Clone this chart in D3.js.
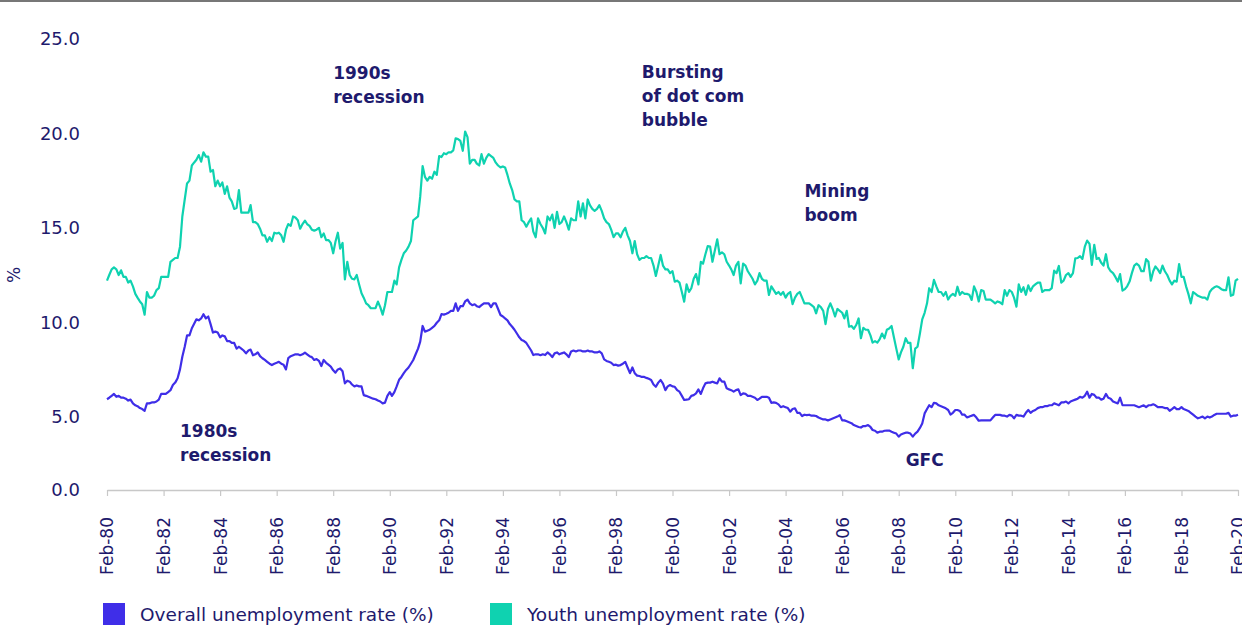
<!DOCTYPE html>
<html>
<head>
<meta charset="utf-8">
<script src="https://cdn.jsdelivr.net/npm/d3@7"></script>
<style>
  body { margin: 0; background: #fff; }
  text { font-family: "DejaVu Sans", sans-serif; fill: #1e1a6d; }
</style>
</head>
<body>
<div id="chart"></div>
<script>
// monthly values, Feb-80 .. Feb-20, one row per year (Feb..Jan)
const startMonth = new Date(1980, 1, 1);
const endMonth = new Date(2020, 1, 1);

const overall = [
  5.92, 6.0, 6.1, 6.2, 6.05, 6.1, 6.0, 6.0, 5.95, 5.85, 5.9, 5.7,
  5.6, 5.55, 5.45, 5.4, 5.31, 5.7, 5.7, 5.75, 5.75, 5.8, 5.9, 6.2,
  6.2, 6.2, 6.3, 6.4, 6.67, 6.8, 7.03, 7.5, 8.17, 8.7, 9.3, 9.3,
  9.68, 9.9, 10.15, 10.1, 10.2, 10.42, 10.2, 10.3, 9.9, 9.45, 9.5, 9.45,
  9.2, 9.3, 9.25, 9.0, 9.0, 8.9, 8.9, 8.6, 8.7, 8.6, 8.5, 8.35,
  8.5, 8.55, 8.25, 8.3, 8.4, 8.2, 8.09, 8.0, 7.9, 7.8, 7.73, 7.8,
  7.85, 7.9, 7.8, 7.75, 7.5, 8.1, 8.2, 8.25, 8.3, 8.3, 8.25, 8.3,
  8.39, 8.3, 8.2, 8.15, 8.0, 8.05, 7.95, 7.68, 8.0, 7.85, 7.75, 7.65,
  7.45, 7.33, 7.5, 7.55, 7.4, 6.76, 6.9, 6.85, 6.7, 6.6, 6.65, 6.6,
  6.6, 6.14, 6.1, 6.05, 6.0, 5.95, 5.92, 5.85, 5.8, 5.7, 5.74, 6.1,
  6.3, 6.1, 6.3, 6.6, 6.95, 7.1, 7.3, 7.47, 7.6, 7.8, 8.0, 8.3,
  8.6, 8.97, 9.8, 9.5, 9.55, 9.6, 9.7, 9.8, 9.97, 10.1, 10.43, 10.4,
  10.45, 10.5, 10.6, 10.6, 11.0, 10.6, 10.85, 10.85, 11.1, 11.2, 11.0, 10.9,
  10.95, 10.85, 10.8, 10.9, 11.0, 11.0, 11.0, 10.8, 11.0, 11.0, 10.7, 10.38,
  10.3, 10.2, 10.1, 9.9, 9.76, 9.6, 9.4, 9.2, 9.06, 9.0, 8.9, 8.7,
  8.5, 8.26, 8.3, 8.3, 8.25, 8.3, 8.26, 8.4, 8.3, 8.15, 8.35, 8.4,
  8.3, 8.35, 8.4, 8.3, 8.15, 8.45, 8.5, 8.45, 8.5, 8.5, 8.45, 8.45,
  8.5, 8.45, 8.45, 8.4, 8.4, 8.45, 8.35, 8.03, 7.95, 7.9, 7.85, 7.73,
  7.75, 7.7, 7.73, 7.8, 7.9, 7.6, 7.3, 7.6, 7.3, 7.17, 7.15, 7.1,
  7.1, 7.05, 7.0, 6.94, 6.7, 6.58, 6.8, 6.94, 6.75, 6.4, 6.6, 6.67,
  6.6, 6.58, 6.4, 6.32, 6.1, 5.88, 5.9, 5.92, 6.1, 6.14, 6.23, 6.44,
  6.2, 6.5, 6.76, 6.8, 6.8, 6.85, 6.8, 6.76, 7.03, 6.85, 6.85, 6.5,
  6.44, 6.4, 6.32, 6.4, 6.44, 6.14, 6.23, 6.2, 6.1, 6.1, 6.05, 6.0,
  5.88, 5.95, 6.05, 6.05, 6.05, 6.0, 5.73, 5.75, 5.73, 5.65, 5.5, 5.55,
  5.5, 5.45, 5.26, 5.4, 5.44, 5.2, 5.2, 5.03, 5.1, 5.08, 5.1, 5.05,
  5.05, 5.03, 4.95, 4.9, 4.85, 4.85, 4.8, 4.85, 4.9, 4.95, 5.0, 5.08,
  4.8, 4.8, 4.75, 4.7, 4.65, 4.55, 4.5, 4.45, 4.42, 4.5, 4.5, 4.55,
  4.45, 4.29, 4.25, 4.15, 4.2, 4.2, 4.25, 4.26, 4.26, 4.2, 4.15, 4.1,
  3.94, 4.05, 4.1, 4.15, 4.15, 4.1, 3.94, 4.1, 4.2, 4.4, 4.64, 5.17,
  5.4, 5.6, 5.5, 5.73, 5.7, 5.6, 5.55, 5.5, 5.44, 5.35, 5.11, 5.2,
  5.35, 5.35, 5.3, 5.1, 5.1, 4.96, 5.0, 5.05, 5.09, 4.95, 4.78, 4.8,
  4.8, 4.8, 4.8, 4.8, 4.95, 5.09, 5.09, 5.09, 5.05, 5.05, 5.0, 5.09,
  5.05, 4.91, 5.09, 5.05, 5.05, 5.0, 5.2, 5.35, 5.2, 5.3, 5.35, 5.45,
  5.5, 5.5, 5.55, 5.55, 5.6, 5.6, 5.7, 5.65, 5.6, 5.75, 5.75, 5.8,
  5.7, 5.8, 5.85, 5.9, 5.95, 6.05, 6.0, 6.1, 6.32, 6.0, 6.2, 6.15,
  6.0, 6.0, 5.9, 5.95, 6.2, 6.0, 5.95, 5.8, 5.75, 5.7, 6.0, 5.6,
  5.6, 5.6, 5.6, 5.6, 5.6, 5.55, 5.5, 5.55, 5.6, 5.5, 5.6, 5.6,
  5.65, 5.6, 5.5, 5.5, 5.5, 5.45, 5.45, 5.31, 5.4, 5.5, 5.4, 5.4,
  5.5, 5.4, 5.35, 5.3, 5.2, 5.1, 5.0, 4.91, 4.95, 5.0, 4.91, 5.0,
  4.95, 5.0, 5.09, 5.15, 5.15, 5.15, 5.15, 5.15, 5.2, 5.0, 5.05, 5.05,
  5.1
];

const youth = [
  12.2, 12.5, 12.8, 12.9, 12.8, 12.5, 12.75, 12.4, 12.4, 12.1, 12.2, 11.9,
  11.5, 11.3, 11.1, 10.95, 10.4, 11.6, 11.3, 11.3, 11.4, 11.7, 11.8, 12.4,
  12.4, 12.4, 12.4, 13.2, 13.3, 13.4, 13.4, 14.0, 15.6, 16.5, 17.35, 17.5,
  18.3, 18.45, 18.6, 18.85, 18.5, 19.0, 18.77, 18.77, 17.97, 18.06, 17.2, 17.5,
  17.2, 17.4, 16.8, 17.2, 16.6, 16.4, 16.0, 16.05, 17.0, 15.8, 15.8, 15.8,
  15.8, 16.2, 15.3, 15.3, 15.2, 14.95, 14.6, 14.6, 14.26, 14.5, 14.3, 14.74,
  14.7, 14.74, 14.6, 14.26, 14.9, 15.2, 15.1, 15.6, 15.55, 15.4, 14.95, 15.2,
  15.38, 15.2, 15.1, 14.9, 14.85, 14.9, 15.0, 14.5, 14.7, 14.35, 14.35, 14.2,
  13.65, 14.26, 14.74, 13.9, 14.2, 12.27, 13.2, 12.5, 12.3, 12.27, 12.5, 12.0,
  11.53, 11.3, 11.0, 10.9, 10.74, 10.74, 10.74, 11.09, 10.8, 10.4, 10.9, 11.6,
  11.6, 11.6, 12.2, 12.0, 12.9, 13.3, 13.65, 13.8, 14.0, 14.3, 15.4, 15.5,
  15.6, 16.65, 18.27, 17.7, 17.5, 17.7, 17.6, 17.97, 17.8, 18.8, 18.75, 18.95,
  18.9, 19.0, 19.0, 19.1, 19.74, 19.7, 19.6, 19.08, 20.1, 19.8, 18.4, 18.6,
  18.6, 18.4, 18.3, 18.9, 18.4, 18.7, 18.9, 18.8, 18.7, 18.45, 18.3, 18.2,
  18.25, 18.2, 17.8, 17.35, 17.0, 16.5, 16.4, 16.4, 15.4, 15.3, 15.06, 15.3,
  15.5, 14.8, 14.5, 15.5, 15.2, 15.0, 14.7, 15.6, 15.4, 15.7, 15.0, 15.85,
  15.2, 15.3, 15.6, 15.3, 14.9, 15.5, 15.4, 15.4, 16.4, 15.6, 16.3, 15.5,
  16.5, 16.2, 16.0, 15.9, 16.0, 16.2, 15.9, 15.5, 15.3, 15.2, 14.9, 14.5,
  14.7, 14.7, 14.5, 14.8, 15.0, 14.6, 14.3, 13.65, 14.3, 13.6, 13.3, 13.4,
  13.4, 13.5, 13.4, 13.4, 13.0, 12.45, 13.0, 13.56, 13.0, 12.8, 12.8, 12.6,
  12.7, 12.15, 12.2, 12.1, 11.6, 11.09, 12.0, 11.6, 11.8, 12.3, 12.55, 12.0,
  13.2, 13.1, 13.6, 14.03, 14.0, 13.2, 13.8, 14.39, 13.6, 13.7, 13.6, 13.2,
  13.0, 12.8, 12.5, 13.0, 13.2, 12.06, 13.1, 13.0, 12.7, 12.5, 12.3, 12.0,
  12.2, 12.6, 12.3, 12.2, 12.2, 11.44, 11.9, 11.7, 11.5, 11.6, 11.45, 11.6,
  11.3, 11.5, 11.6, 10.96, 11.3, 11.5, 11.6, 11.3, 11.0, 11.0, 11.0, 10.9,
  10.8, 10.47, 10.9, 10.8, 10.6, 9.9, 10.7, 11.0, 10.7, 10.3, 10.7, 10.6,
  10.5, 10.2, 10.6, 9.76, 9.8, 9.65, 9.85, 10.2, 9.15, 9.7, 9.6, 9.6,
  9.3, 8.92, 9.0, 8.92, 9.1, 9.4, 9.15, 9.6, 9.67, 9.8, 9.2, 8.6,
  8.03, 8.4, 8.7, 9.15, 8.9, 8.9, 7.56, 8.6, 8.7, 9.4, 10.15, 10.5,
  11.0, 11.8, 11.6, 12.24, 11.9, 11.6, 11.6, 11.4, 11.6, 11.2, 11.4, 11.5,
  11.4, 11.88, 11.45, 11.6, 11.5, 11.5, 11.45, 11.18, 11.9, 11.6, 11.1, 11.7,
  11.65, 11.2, 11.2, 11.2, 11.1, 11.0, 11.1, 11.05, 10.95, 11.7, 11.4, 11.7,
  11.6, 11.3, 10.82, 12.0, 11.6, 11.85, 11.45, 11.95, 11.65, 11.9, 12.0, 12.1,
  12.1, 11.6, 11.7, 11.7, 11.7, 11.8, 12.73, 12.6, 12.98, 12.1, 12.2, 12.5,
  12.6, 12.4, 12.6, 13.38, 13.4, 13.5, 13.35, 14.0, 14.32, 14.15, 13.03, 14.1,
  13.35, 13.4, 13.15, 13.0, 13.6, 12.9, 12.7, 12.6, 12.4, 12.15, 12.55, 11.67,
  11.75, 11.9, 12.15, 12.6, 13.0, 13.1, 13.0, 12.7, 12.7, 13.34, 13.2, 12.2,
  12.7, 12.95, 12.8, 12.6, 13.0, 12.7, 12.5, 12.2, 12.0, 12.2, 12.15, 13.08,
  12.4, 12.4, 11.9, 11.5, 11.0, 11.6, 11.5, 11.4, 11.35, 11.3, 11.3, 11.2,
  11.6, 11.75, 11.85, 11.9, 11.85, 11.75, 11.7, 11.7, 12.38, 11.4, 11.45, 12.2,
  12.3
];

const yTicks = [0, 5, 10, 15, 20, 25];
const xTickYears = d3.range(1980, 2021, 2);
const seriesNames = ["Overall unemployment rate (%)", "Youth unemployment rate (%)"];
const seriesColors = ["#3f2ee8", "#0fd2b0"];

const notes = [
  { lines: ["1990s", "recession"], date: new Date(1988, 1, 1), value: 22.9 },
  { lines: ["Bursting", "of dot com", "bubble"], date: new Date(1999, 0, 1), value: 22.95 },
  { lines: ["Mining", "boom"], date: new Date(2004, 9, 1), value: 16.65 },
  { lines: ["1980s", "recession"], date: new Date(1982, 8, 1), value: 3.9 },
  { lines: ["GFC"], date: new Date(2008, 4, 1), value: 2.4 }
];

let w = 1242;
let h = 628;
let axisY = 490;

const svg = d3.select("#chart").append("svg")
    .attr("width", w)
    .attr("height", h);

// thin rule across the top
svg.append("line")
    .attr("x1", 0).attr("x2", w)
    .attr("y1", 1).attr("y2", 1)
    .attr("stroke", "#4a4a4a")
    .attr("stroke-width", 1.5);

const x = d3.scaleTime().domain([startMonth, endMonth]).range([107, 1238]);
const y = d3.scaleLinear().domain([0, 25]).range([511, 39]);

// y labels (no gridlines in the original)
svg.append("g").selectAll("text")
  .data(yTicks)
  .join("text")
    .attr("x", 80)
    .attr("y", d => Math.min(y(d), axisY))
    .attr("dy", "0.35em")
    .attr("text-anchor", "end")
    .attr("font-size", 18)
    .text(d => d.toFixed(1));

svg.append("text")
    .attr("transform", "translate(14," + y(12.5) + ") rotate(-90)")
    .attr("text-anchor", "middle")
    .attr("dy", "0.35em")
    .attr("font-size", 17)
    .text("%");

// x axis
const xAxis = d3.axisBottom(x)
    .tickValues(xTickYears.map(yr => new Date(yr, 1, 1)))
    .tickFormat(d3.timeFormat("%b-%y"))
    .tickSize(6)
    .tickSizeOuter(0);

const gx = svg.append("g")
    .attr("transform", "translate(0," + axisY + ")")
    .call(xAxis);
gx.select(".domain").attr("stroke", "#c8c8c8").attr("stroke-width", 1.5);
gx.selectAll(".tick line").attr("stroke", "#c8c8c8").attr("stroke-width", 1.2);
gx.selectAll(".tick text")
    .attr("font-family", "DejaVu Sans, sans-serif")
    .attr("font-size", 17)
    .attr("fill", "#2a2290")
    .attr("transform", "rotate(-90)")
    .attr("text-anchor", "end")
    .attr("x", -27)
    .attr("y", 0)
    .attr("dy", "0.35em");

// lines
const months = d3.range(overall.length).map(i => d3.timeMonth.offset(startMonth, i));
const line = d3.line()
    .x((d, i) => x(months[i]))
    .y(d => y(d));

[youth, overall].forEach((s, k) => {
  svg.append("path")
      .datum(s)
      .attr("fill", "none")
      .attr("stroke", k == 0 ? seriesColors[1] : seriesColors[0])
      .attr("stroke-width", 2.2)
      .attr("stroke-linejoin", "round")
      .attr("d", line);
});

// annotations
const noteG = svg.append("g")
    .attr("font-weight", "bold")
    .attr("font-size", 17);
notes.forEach(n => {
  const t = noteG.append("text")
      .attr("x", x(n.date))
      .attr("y", y(n.value));
  n.lines.forEach((l, i) => {
    t.append("tspan")
      .attr("x", x(n.date))
      .attr("dy", i == 0 ? 0 : 24)
      .text(l);
  });
});

// legend
const legend = svg.append("g")
    .selectAll("g")
    .data(seriesNames)
    .join("g")
      .attr("transform", (d, i) => "translate(" + (i == 0 ? 103 : 490) + ",603)");
legend.append("rect")
    .attr("width", 22)
    .attr("height", 22)
    .attr("fill", (d, i) => seriesColors[i]);
legend.append("text")
    .attr("x", 37)
    .attr("y", 18)
    .attr("font-size", 18.5)
    .text(d => d);
</script>
</body>
</html>
